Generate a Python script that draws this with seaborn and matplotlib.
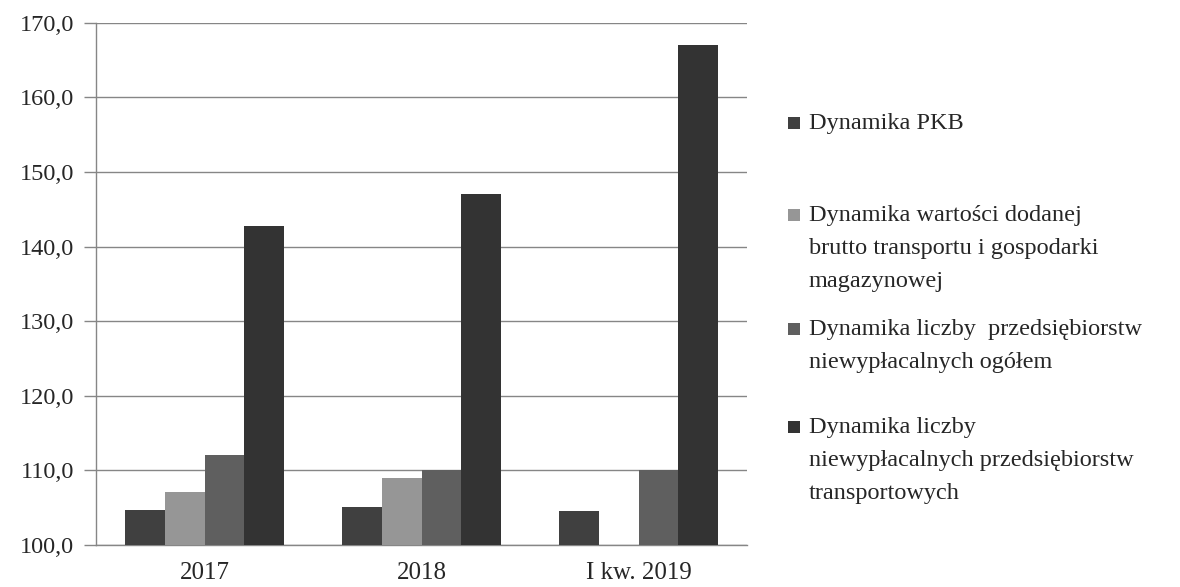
import pandas as pd
import numpy as np
import matplotlib.pyplot as plt
import seaborn as sns
from matplotlib.patches import Rectangle

# data
categories = ['2017', '2018', 'I kw. 2019']
series = ['Dynamika PKB',
          'Dynamika wartości dodanej\nbrutto transportu i gospodarki\nmagazynowej',
          'Dynamika liczby  przedsiębiorstw\nniewypłacalnych ogółem',
          'Dynamika liczby\nniewypłacalnych przedsiębiorstw\ntransportowych']
pkb = [104.7, 105.1, 104.5]
wartosc = [107.1, 109.0, np.nan]
ogolem = [112.0, 110.0, 110.0]
transport = [142.8, 147.0, 167.0]
colors = ['#404040', '#969696', '#5f5f5f', '#333333']
y_ticks = [100, 110, 120, 130, 140, 150, 160, 170]

rows = []
for name, vals in zip(series, [pkb, wartosc, ogolem, transport]):
    for cat, v in zip(categories, vals):
        rows.append({'kategoria': cat, 'seria': name, 'wartosc': v})
df = pd.DataFrame(rows).dropna()

sns.set_style('white')
plt.rcParams['font.family'] = ['Liberation Serif', 'DejaVu Serif']

fig = plt.figure(figsize=(11.8, 5.87), dpi=100)
ax = fig.add_axes([0.0814, 0.0716, 0.5517, 0.8894])

sns.barplot(data=df, x='kategoria', y='wartosc', hue='seria', order=categories,
            hue_order=series, palette=colors, width=0.73, saturation=1,
            edgecolor='none', legend=False, ax=ax, zorder=3)

ax.set_ylim(100, 170)
ax.set_xlim(-0.5, 2.5)
ax.set_yticks(y_ticks)
ax.set_yticklabels([f'{t:.1f}'.replace('.', ',') for t in y_ticks], fontsize=17.5)
ax.set_xticks(range(len(categories)))
ax.set_xticklabels(categories, fontsize=18)
ax.set_xticks([0.5, 1.5, 2.5], minor=True)
ax.tick_params(axis='x', which='major', length=0, pad=12)
ax.tick_params(axis='x', which='minor', length=9, width=1, color='#868686', direction='out')
ax.tick_params(axis='y', length=9, width=1, color='#868686', direction='out', left=True, pad=7)
ax.set_xlabel('')
ax.set_ylabel('')
ax.grid(axis='y', color='#868686', linewidth=1, zorder=0)
ax.set_axisbelow(True)
for side in ['top', 'right']:
    ax.spines[side].set_visible(False)
for side in ['left', 'bottom']:
    ax.spines[side].set_color('#868686')
    ax.spines[side].set_linewidth(1)

# legend drawn by hand to keep the uneven spacing of the original
W, H = 1180, 587
first_line_y = [123, 215, 329, 427]
for name, col, yl in zip(series, colors, first_line_y):
    fig.patches.append(Rectangle((788 / W, 1 - (yl + 6) / H), 12 / W, 12 / H,
                                 transform=fig.transFigure, facecolor=col,
                                 edgecolor='none'))
    fig.text(809 / W, 1 - (yl - 10) / H, name, fontsize=17.5, va='top', ha='left',
             linespacing=1.75)

fig.savefig('out.png', dpi=100)
